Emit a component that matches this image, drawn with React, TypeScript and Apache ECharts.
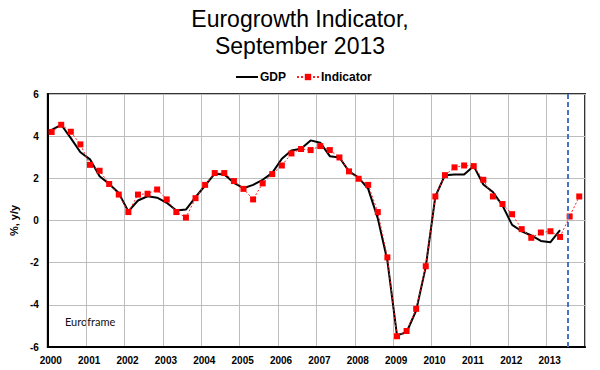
import React, { useEffect, useRef } from "react";
import * as echarts from "echarts";

const titleText = "Eurogrowth Indicator,\nSeptember 2013";
const startYear = 2000;
const yearTicks = [2000, 2001, 2002, 2003, 2004, 2005, 2006, 2007, 2008, 2009, 2010, 2011, 2012, 2013];
const yTickValues = [-6, -4, -2, 0, 2, 4, 6];
const forecastStart = 2013.54;

const indicatorValues = [
  4.2, 4.54, 4.21, 3.61, 2.64, 2.36, 1.73, 1.23, 0.4, 1.23, 1.27, 1.47, 1.0, 0.4, 0.14, 1.06,
  1.69, 2.25, 2.25, 1.87, 1.5, 1.0, 1.76, 2.2, 2.61, 3.18, 3.39, 3.34, 3.53, 3.34, 2.99, 2.33,
  1.98, 1.69, 0.4, -1.75, -5.49, -5.24, -4.19, -2.17, 1.14, 2.15, 2.52, 2.61, 2.58, 1.93, 1.14, 0.78,
  0.3, -0.41, -0.82, -0.57, -0.51, -0.78, 0.19, 1.14,
];

const gdpValues = [
  4.3, 4.54, 3.91, 3.24, 2.9, 2.1, 1.73, 1.3, 0.43, 0.95, 1.15, 1.08, 0.84, 0.47, 0.52, 1.11,
  1.66, 2.22, 2.18, 1.79, 1.53, 1.69, 1.93, 2.26, 2.93, 3.32, 3.4, 3.8, 3.69, 3.05, 2.99, 2.33,
  2.03, 1.5, 0.1, -1.9, -5.45, -5.3, -4.27, -2.2, 1.14, 2.15, 2.18, 2.18, 2.58, 1.71, 1.35, 0.71,
  -0.21, -0.51, -0.71, -0.97, -1.03, -0.46,
];

// quarterly observations, plotted in the middle of each quarter's 2nd month
const quarterPos = (i: number) => startYear + Math.floor(i / 4) + (i % 4) * 0.25 + 0.1;

const FONT = "'Liberation Sans', Arial, sans-serif";

export default function App() {
  const ref = useRef<HTMLDivElement>(null);
  useEffect(() => {
    document.body.style.margin = "0";
    if (!ref.current) return;
    const chart = echarts.init(ref.current, null, { renderer: "svg" });
    chart.setOption({
      animation: false,
      backgroundColor: "#ffffff",
      title: {
        text: titleText,
        left: "center",
        top: 5,
        padding: 0,
        textStyle: { fontFamily: FONT, fontSize: 23, fontWeight: "normal", color: "#000", lineHeight: 27 },
      },
      legend: {
        top: 71,
        left: 235,
        itemWidth: 22,
        itemHeight: 8,
        itemGap: 10,
        padding: 0,
        textStyle: { fontFamily: FONT, fontSize: 12, fontWeight: "bold", color: "#000", padding: [0, 0, 0, -3] },
        data: ["GDP", "Indicator"],
      },
      grid: {
        left: 44,
        right: 15,
        top: 94,
        bottom: 23,
        show: true,
        borderColor: "#333",
        borderWidth: 2,
      },
      xAxis: {
        type: "value",
        min: 2000,
        max: 2014,
        interval: 1,
        axisLine: { show: true, onZero: false, lineStyle: { color: "#000", width: 2 } },
        axisTick: { show: false },
        splitLine: { show: true, lineStyle: { color: "#bdbdbd", width: 1 } },
        axisLabel: {
          fontFamily: FONT,
          fontSize: 10,
          fontWeight: "bold",
          color: "#000",
          margin: 8,
          padding: [0, 0, 0, 6],
          formatter: (v: number) => (yearTicks.includes(v) ? String(v) : ""),
        },
      },
      yAxis: {
        type: "value",
        min: yTickValues[0],
        max: yTickValues[yTickValues.length - 1],
        interval: 2,
        name: "%, y/y",
        nameLocation: "middle",
        nameGap: 27,
        nameRotate: 90,
        nameTextStyle: { fontFamily: FONT, fontSize: 11, fontWeight: "bold", color: "#000" },
        axisLine: { show: true, lineStyle: { color: "#000", width: 2 } },
        axisTick: { show: false },
        splitLine: { show: true, lineStyle: { color: "#bdbdbd", width: 1 } },
        axisLabel: { fontFamily: FONT, fontSize: 10, fontWeight: "bold", color: "#000", margin: 9 },
      },
      graphic: [
        {
          type: "text",
          left: 65,
          top: 316,
          style: { text: "Euroframe", fontFamily: "Lato, 'Open Sans', sans-serif", fontSize: 11, fill: "#111" },
        },
      ],
      series: [
        {
          name: "GDP",
          type: "line",
          data: gdpValues.map((v, i) => [quarterPos(i), v]),
          showSymbol: false,
          symbol: "none",
          lineStyle: { color: "#000", width: 2 },
          itemStyle: { color: "#000", opacity: 0 },
          markLine: {
            silent: true,
            symbol: "none",
            label: { show: false },
            lineStyle: { color: "#4472c4", width: 2, type: [5, 3], opacity: 1 },
            data: [{ xAxis: forecastStart }],
          },
          z: 2,
        },
        {
          name: "Indicator",
          type: "line",
          data: indicatorValues.map((v, i) => [quarterPos(i), v]),
          symbol: "rect",
          symbolSize: 6,
          lineStyle: { color: "#ff2020", width: 1, type: [2, 2] },
          itemStyle: { color: "#ff0000" },
          z: 3,
        },
      ],
    });
    return () => chart.dispose();
  }, []);
  return <div ref={ref} style={{ width: 600, height: 370 }} />;
}
